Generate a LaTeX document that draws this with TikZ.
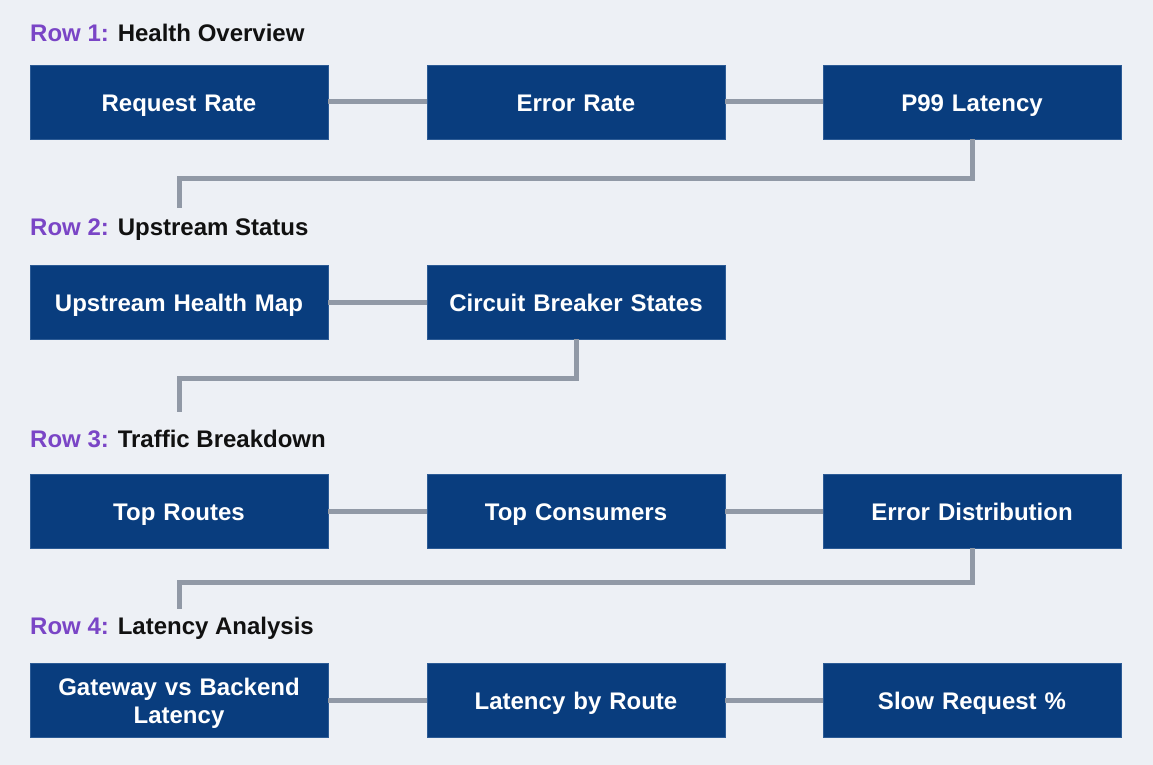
\documentclass[tikz,border=0pt]{standalone}
\usepackage{fontspec}
\setmainfont{Liberation Sans}
\definecolor{bgc}{HTML}{EDF0F5}
\definecolor{boxc}{HTML}{093D7E}
\definecolor{boxb}{HTML}{2C5B95}
\definecolor{linec}{HTML}{9199A6}
\definecolor{rowc}{HTML}{7A45C6}
\definecolor{titc}{HTML}{111111}
\newcommand{\bstrut}{\rule[-6pt]{0pt}{31pt}}
\begin{document}
\begin{tikzpicture}[x=1pt,y=-1pt,
  panel/.style={draw=boxb,line width=0.8pt,fill=boxc,minimum width=298pt,minimum height=74pt,
    inner sep=2pt,text=white,font=\fontsize{24}{28}\selectfont\bfseries,align=center,text width=290pt},
  rowtitle/.style={anchor=west,inner sep=0pt,font=\fontsize{24}{27}\selectfont\bfseries,text=titc},
  link/.style={draw=linec,line width=5pt}]
\fill[bgc] (0,0) rectangle (1153,765);
\useasboundingbox (0,0) rectangle (1153,765);
% titles
\node[rowtitle] (t1) at (30,33) {\textcolor{rowc}{Row 1:} Health Overview};
\node[rowtitle] (t2) at (30,230) {\textcolor{rowc}{Row 2:} Upstream Status};
\node[rowtitle] (t3) at (30,439) {\textcolor{rowc}{Row 3:} Traffic Breakdown};
\node[rowtitle] (t4) at (30,628) {\textcolor{rowc}{Row 4:} Latency Analysis};
% row 1
\node[panel] (a1) at (179,102) {\bstrut Request Rate};
\node[panel] (a2) at (576,102) {\bstrut Error Rate};
\node[panel] (a3) at (972,102) {\bstrut P99 Latency};
% row 2
\node[panel] (b1) at (179,302) {\bstrut Upstream Health Map};
\node[panel] (b2) at (576,302) {\bstrut Circuit Breaker States};
% row 3
\node[panel] (c1) at (179,511) {\bstrut Top Routes};
\node[panel] (c2) at (576,511) {\bstrut Top Consumers};
\node[panel] (c3) at (972,511) {\bstrut Error Distribution};
% row 4
\node[panel] (d1) at (179,700) {\rule{0pt}{25pt}Gateway vs Backend\\\rule[-6pt]{0pt}{6pt}Latency};
\node[panel] (d2) at (576,700) {\bstrut Latency by Route};
\node[panel] (d3) at (972,700) {\bstrut Slow Request \%};
% free ends
\coordinate (e1) at (179,208);
\coordinate (e2) at (179,412);
\coordinate (e3) at (179,609);
% horizontal links
\draw[link] (a1) -- (a2);
\draw[link] (a2) -- (a3);
\draw[link] (b1) -- (b2);
\draw[link] (c1) -- (c2);
\draw[link] (c2) -- (c3);
\draw[link] (d1) -- (d2);
\draw[link] (d2) -- (d3);
% row links
\draw[link] (a3.south) -- ++(0,39) -| (e1);
\draw[link] (b2.south) -- ++(0,39) -| (e2);
\draw[link] (c3.south) -- ++(0,34) -| (e3);
\end{tikzpicture}
\end{document}
